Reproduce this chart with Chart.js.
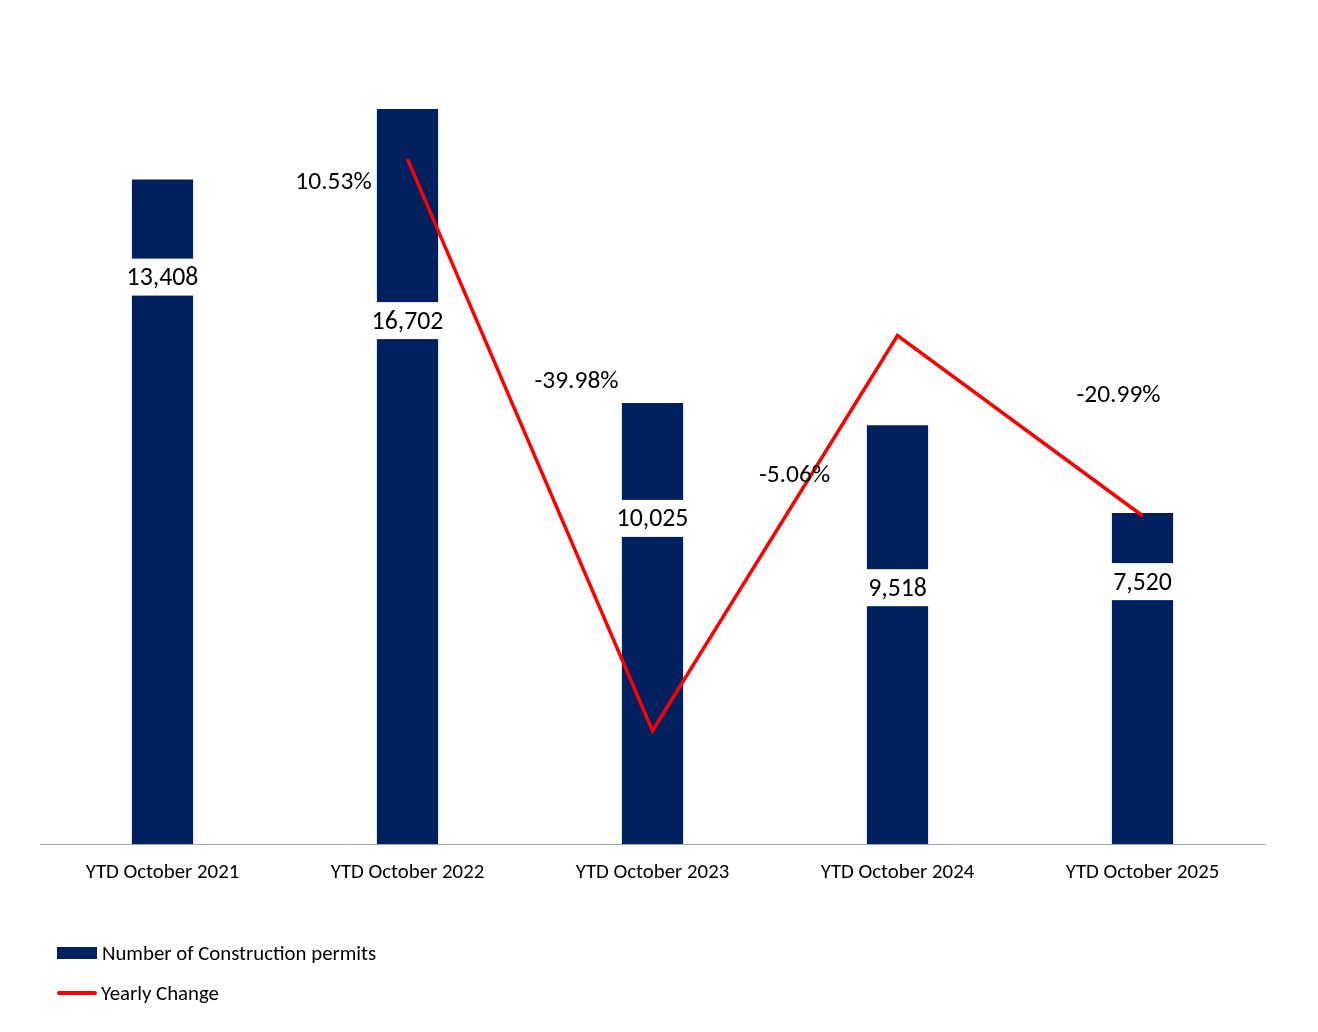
<!DOCTYPE html>
<html>
<head>
<meta charset="utf-8">
<script src="https://cdn.jsdelivr.net/npm/chart.js@4.4.0/dist/chart.umd.min.js"></script>
<style>
  html, body { margin: 0; padding: 0; background: #ffffff; }
  #wrap { position: relative; width: 1318px; height: 1032px; }
  #legend { position: absolute; left: 57px; top: 938px; font-family: Carlito, Calibri, "Open Sans", sans-serif; font-size: 20.8px; color: #000; }
  .item { display: flex; align-items: center; height: 30px; margin-bottom: 10px; }
  .sw { width: 40px; margin-right: 5px; }
</style>
</head>
<body>
<div id="wrap">
  <canvas id="c" width="1318" height="1032"></canvas>
  <div id="legend"></div>
</div>
<script>
const categories = ["YTD October 2021", "YTD October 2022", "YTD October 2023", "YTD October 2024", "YTD October 2025"];
const permits = [15100, 16702, 10025, 9518, 7520];
const permitLabels = ["13,408", "16,702", "10,025", "9,518", "7,520"];
const yearlyChange = [null, 10.53, -39.98, -5.06, -20.99];
const yearlyChangeLabels = ["", "10.53%", "-39.98%", "-5.06%", "-20.99%"];

const FONT = 'Carlito, Calibri, "Open Sans", sans-serif';
const NAVY = '#002060';
const RED = '#FF0000';

// label placement offsets (pixels) relative to bar top / line point
const barLabelDy = [97.5, 211.5, 115.5, 162.5, 68.5];
const lineLabelOff = [null, [-74, 22], [-76, -351], [-103, 139], [-24, -122]];

const labelPlugin = {
  id: 'labels',
  afterDatasetsDraw(chart) {
    const ctx = chart.ctx;
    ctx.save();
    ctx.font = '25.8px ' + FONT;
    ctx.textAlign = 'center';
    ctx.textBaseline = 'middle';
    const barMeta = chart.getDatasetMeta(0);
    barMeta.data.forEach((bar, i) => {
      const y = bar.y + barLabelDy[i];
      const t = permitLabels[i];
      const w = Math.max(ctx.measureText(t).width + 8, bar.width + 4);
      ctx.fillStyle = '#ffffff';
      ctx.fillRect(bar.x - w / 2, y - 18.5, w, 37);
      ctx.fillStyle = '#000000';
      ctx.fillText(t, bar.x, y + 1.5);
    });
    ctx.font = '25.5px ' + FONT;
    const lineMeta = chart.getDatasetMeta(1);
    lineMeta.data.forEach((pt, i) => {
      if (yearlyChange[i] === null) return;
      const o = lineLabelOff[i];
      ctx.fillStyle = '#000000';
      ctx.fillText(yearlyChangeLabels[i], pt.x + o[0], pt.y + o[1] + 1.5);
    });
    ctx.restore();
  }
};

const chart = new Chart(document.getElementById('c'), {
  data: {
    labels: categories,
    datasets: [
      {
        type: 'bar',
        label: 'Number of Construction permits',
        data: permits,
        backgroundColor: NAVY,
        yAxisID: 'y',
        barPercentage: 0.25,
        categoryPercentage: 1.0,
        order: 2
      },
      {
        type: 'line',
        label: 'Yearly Change',
        data: yearlyChange,
        borderColor: RED,
        backgroundColor: RED,
        borderWidth: 3.5,
        pointRadius: 0,
        tension: 0,
        spanGaps: false,
        yAxisID: 'y1',
        order: 1
      }
    ]
  },
  options: {
    responsive: false,
    animation: false,
    layout: { padding: { top: 52, left: 40, right: 53, bottom: 0 } },
    plugins: { legend: { display: false }, tooltip: { enabled: false } },
    scales: {
      x: {
        grid: { display: false, drawTicks: false },
        border: { display: true, color: '#A6A6A6', width: 1 },
        ticks: { color: '#000000', font: { family: FONT, size: 20.8 }, padding: 16, maxRotation: 0 },
        afterFit(scale) { scale.height = 188; }
      },
      y: { display: false, min: 0, max: 18000 },
      y1: { display: false, min: -50, max: 20, position: 'right' }
    }
  },
  plugins: [labelPlugin]
});

// HTML legend built from datasets
const leg = document.getElementById('legend');
chart.data.datasets.forEach(ds => {
  const item = document.createElement('div');
  item.className = 'item';
  const sw = document.createElement('span');
  sw.className = 'sw';
  if (ds.type === 'bar') {
    sw.style.height = '12px';
    sw.style.background = ds.backgroundColor;
    sw.style.marginRight = '5px';
  } else {
    sw.style.height = '3.5px';
    sw.style.background = ds.borderColor;
    sw.style.borderRadius = '2px';
    sw.style.marginRight = '4px';
  }
  const tx = document.createElement('span');
  tx.textContent = ds.label;
  item.appendChild(sw);
  item.appendChild(tx);
  leg.appendChild(item);
});
</script>
</body>
</html>
